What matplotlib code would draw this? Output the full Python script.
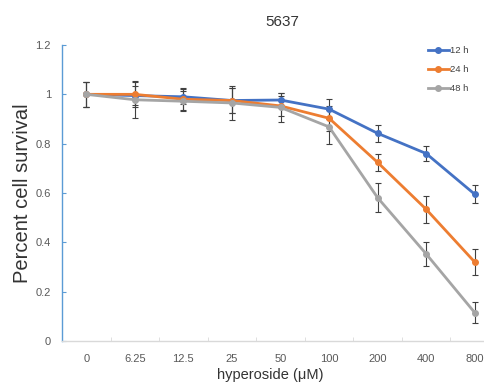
import matplotlib
matplotlib.use("Agg")
import matplotlib.pyplot as plt
from matplotlib.ticker import FixedLocator, FuncFormatter
from matplotlib.lines import Line2D

plt.rcParams['font.family'] = ['Liberation Sans', 'DejaVu Sans']

categories = ["0", "6.25", "12.5", "25", "50", "100", "200", "400", "800"]
series_names = ["12 h", "24 h", "48 h"]
vals_12h = [1.0, 0.995, 0.99, 0.975, 0.977, 0.94, 0.842, 0.76, 0.595]
vals_24h = [1.0, 1.0, 0.98, 0.975, 0.953, 0.903, 0.724, 0.534, 0.32]
vals_48h = [1.0, 0.978, 0.972, 0.965, 0.947, 0.868, 0.581, 0.353, 0.115]
err_12h = [0.05, 0.04, 0.03, 0.05, 0.03, 0.04, 0.035, 0.03, 0.037]
err_24h = [0.05, 0.05, 0.045, 0.05, 0.04, 0.05, 0.036, 0.055, 0.053]
err_48h = [0.05, 0.075, 0.04, 0.07, 0.06, 0.07, 0.058, 0.05, 0.043]
colors = ["#4472C4", "#ED7D31", "#A5A5A5"]

fig = plt.figure(figsize=(4.84, 3.83), dpi=100)
ax = fig.add_axes([62/484, 42/383, 437/484, 296/383])

x = list(range(len(categories)))
for vals, errs, c, name in zip([vals_12h, vals_24h, vals_48h],
                               [err_12h, err_24h, err_48h], colors, series_names):
    ax.errorbar(x, vals, yerr=errs, color=c, lw=2, marker="o", ms=4,
                ecolor="#404040", elinewidth=0.8, capsize=2.5, capthick=0.8,
                zorder=3)

ax.set_xlim(-0.5, len(categories) - 0.5)
ax.set_ylim(0, 1.2)
ax.set_yticks([0, 0.2, 0.4, 0.6, 0.8, 1.0, 1.2])
ax.yaxis.set_major_formatter(FuncFormatter(lambda v, p: f"{v:g}"))
ax.set_xticks(x)
ax.set_xticklabels(categories)
ax.xaxis.set_minor_locator(FixedLocator([i + 0.5 for i in range(-1, len(categories))]))
ax.tick_params(axis="x", which="major", length=0, pad=9, labelsize=8, labelcolor="#595959")
ax.tick_params(axis="x", which="minor", length=3, color="#D9D9D9", direction="in")
ax.tick_params(axis="y", length=3, direction="in", color="#5B9BD5", labelsize=8,
               labelcolor="#595959", pad=8)

for s in ["top", "right"]:
    ax.spines[s].set_visible(False)
ax.spines["left"].set_color("#5B9BD5")
ax.spines["left"].set_linewidth(1.0)
ax.spines["bottom"].set_color("#D9D9D9")
ax.spines["bottom"].set_linewidth(1.0)

fig.text(282/484, 1 - 22/383, "5637", ha="center", va="center", fontsize=11, color="#333333")
fig.text(23/484, 1 - 193/383, "Percent cell survival", ha="center", va="center", rotation=90,
         fontsize=14.5, color="#333333")
fig.text(270/484, 1 - 375/383, "hyperoside (\u03bcM)", ha="center", va="center",
         fontsize=10.5, color="#333333")

handles = [Line2D([], [], color=c, lw=2, marker="o", ms=4) for c in colors]
leg = fig.legend(handles, series_names, loc="upper left", bbox_to_anchor=(428/484, 1 - 46/383),
                 frameon=False, fontsize=6.8, handlelength=2.2, handletextpad=0.15,
                 labelspacing=1.05, borderaxespad=0, borderpad=0)
for t in leg.get_texts():
    t.set_color("#404040")

fig.savefig("out.png", dpi=100)
